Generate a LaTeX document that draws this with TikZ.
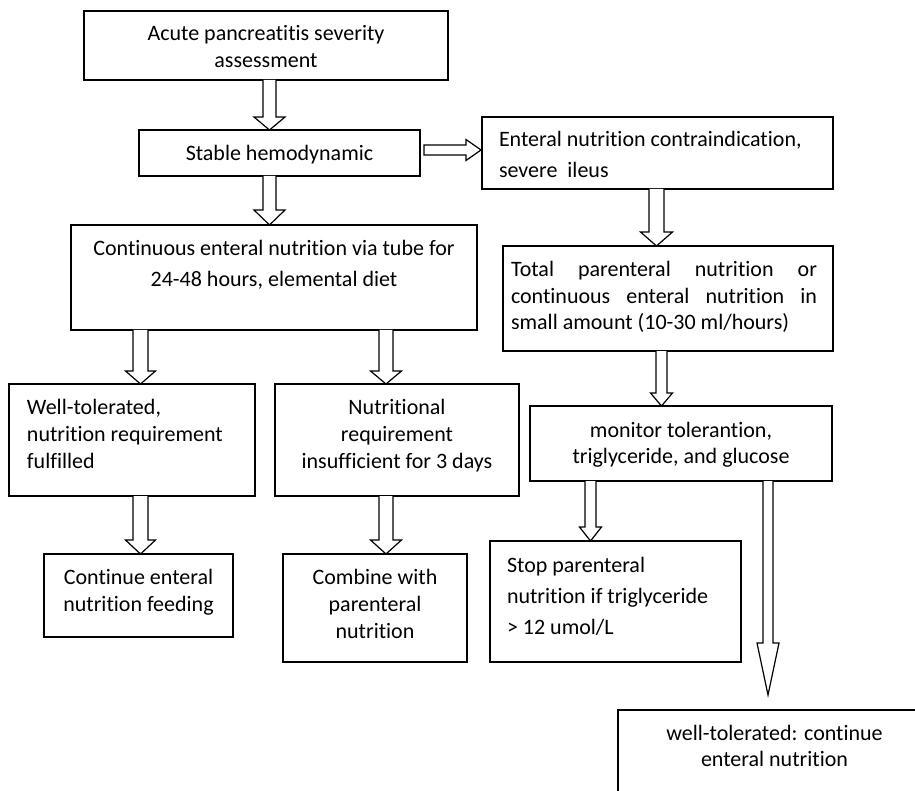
\documentclass[tikz,border=0pt]{standalone}
\usepackage{fontspec}
\setmainfont[Ligatures=NoCommon]{Carlito}
\usetikzlibrary{calc}
\newcommand\tb[6]{\parbox[c][#2pt][t]{#1pt}{\fontsize{22pt}{#4pt}\selectfont\vspace*{#3pt}\leavevmode\rule{0pt}{18pt}#5#6}}
\newcommand\vblock[7]{%
 \draw[blk] let \p1=(#2), \p2=(#3) in
  ({(#1-#4)*1pt},\y1) -- ({(#1-#4)*1pt},{\y2+(#6+#7)*1pt}) -- ({(#1-#5)*1pt},{\y2+(#6+#7)*1pt})
  -- ({#1*1pt},{\y2+#7*1pt}) -- ({(#1+#5)*1pt},{\y2+(#6+#7)*1pt}) -- ({(#1+#4)*1pt},{\y2+(#6+#7)*1pt})
  -- ({(#1+#4)*1pt},\y1);}
\tikzset{
 box/.style={draw, line width=1.2pt, inner sep=0pt, outer sep=0pt, anchor=north west},
 blk/.style={draw, line width=1.2pt, line join=miter, fill=white}
}
\begin{document}
\begin{tikzpicture}
\useasboundingbox (0,0) rectangle (915pt,-791pt);
\clip (0,0) rectangle (915pt,-791pt);
\fill[white] (0,0) rectangle (915pt,-791pt);
% boxes
\node[box] (b1) at (84pt,-11pt) {\tb{364}{69}{12}{27}{\centering}{Acute pancreatitis severity\\assessment}};
\node[box] (b2) at (139pt,-130pt) {\tb{281}{46}{13}{27}{\centering}{Stable hemodynamic}};
\node[box] (b3) at (71pt,-225pt) {\tb{406}{105}{13}{31}{\centering}{Continuous enteral nutrition via tube for\\24-48 hours, elemental diet}};
\node[box] (b4) at (482pt,-117pt) {\tb{351}{72}{12}{31}{\raggedright\leftskip=17pt}{Enteral nutrition contraindication,\\severe\ \ ileus}};
\node[box] (b5) at (503pt,-246pt) {\tb{330}{105}{13}{26.5}{\raggedright\leftskip=8pt}{\makebox[306pt][s]{Total parenteral nutrition or}\\\makebox[306pt][s]{continuous enteral nutrition in}\\small amount (10-30 ml/hours)}};
\node[box] (b6) at (530pt,-406pt) {\tb{302}{75}{13}{26}{\centering}{monitor tolerantion,\\triglyceride, and glucose}};
\node[box] (b7) at (490pt,-541pt) {\tb{251}{121}{13}{31}{\raggedright\leftskip=17pt}{Stop parenteral\\nutrition if triglyceride\\> 12 umol/L}};
\node[box] (b8) at (9pt,-384pt) {\tb{246}{112}{12}{27}{\raggedright\leftskip=18pt}{Well-tolerated,\\nutrition requirement\\fulfilled}};
\node[box] (b9) at (275pt,-384pt) {\tb{244}{112}{12}{27}{\centering}{Nutritional\\requirement\\insufficient for 3 days}};
\node[box] (b10) at (44pt,-554pt) {\tb{189}{83}{12}{27}{\centering}{Continue enteral\\nutrition feeding}};
\node[box] (b11) at (283pt,-554pt) {\tb{184}{108}{12}{27}{\centering}{Combine with\\parenteral\\nutrition}};
\node[box] (b12) at (618pt,-710pt) {\tb{313}{120}{12}{26}{\centering}{well-tolerated: continue\\enteral nutrition}};
% block arrows
\vblock{269.5}{b1.south}{b2.north}{6.5}{15.5}{13}{0}
\vblock{269.5}{b2.south}{b3.north}{6.5}{15.5}{15}{0}
\vblock{140.5}{b3.south}{b8.north}{7.5}{15}{13}{0}
\vblock{386}{b3.south}{b9.north}{7}{15.5}{13}{0}
\vblock{140.5}{b8.south}{b10.north}{7.5}{15}{14}{0}
\vblock{386}{b9.south}{b11.north}{7}{15.5}{14}{0}
\vblock{656.5}{b4.south}{b5.north}{7.5}{16}{14}{0}
\vblock{661.5}{b5.south}{b6.north}{5.5}{11}{13}{0}
\vblock{590.5}{b6.south}{b7.north}{5.5}{11}{14}{0}
\vblock{768}{b6.south}{b12.north}{5}{11}{52}{15}
\draw[blk] let \p1=(b2.east), \p2=(b4.west) in
 ({\x1+4pt},{\y1+8pt}) -- ({\x2-16pt},{\y1+8pt}) -- ({\x2-16pt},{\y1+13.5pt})
 -- ({\x2-1pt},{\y1+3pt}) -- ({\x2-16pt},{\y1-7.5pt}) -- ({\x2-16pt},{\y1-2pt})
 -- ({\x1+4pt},{\y1-2pt}) -- cycle;
\end{tikzpicture}
\end{document}
